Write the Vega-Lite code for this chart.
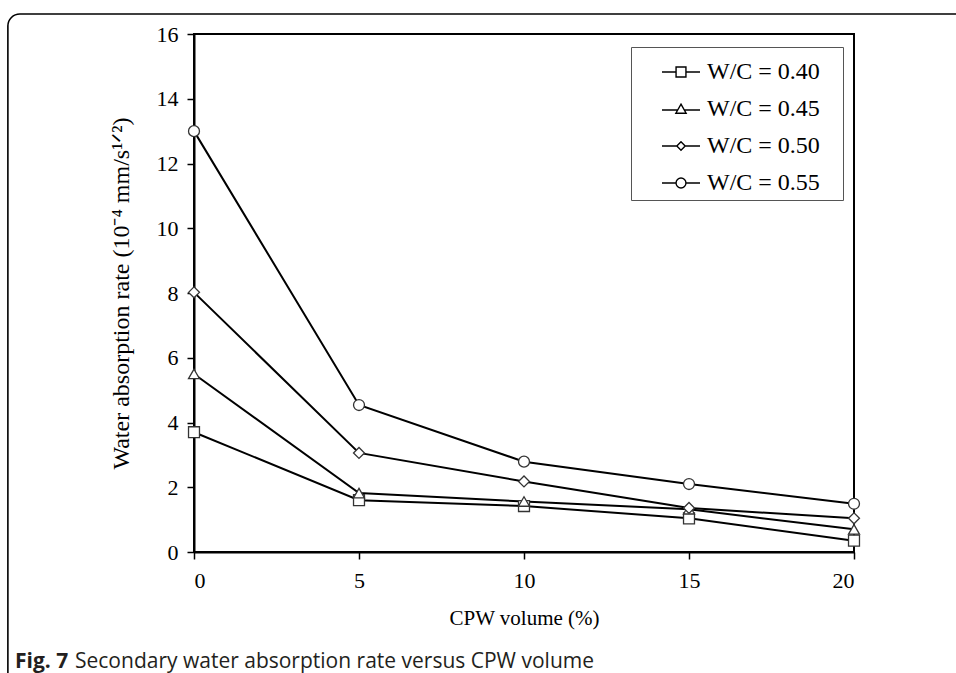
{
  "$schema": "https://vega.github.io/schema/vega-lite/v6.json",
  "width": 660,
  "height": 518,
  "autosize": "none",
  "padding": {"left": 194, "top": 34, "right": 102, "bottom": 121},
  "background": "white",
  "config": {
    "font": "Liberation Serif",
    "view": {"stroke": "black", "strokeWidth": 2},
    "axis": {
      "grid": false,
      "domainColor": "black",
      "domainWidth": 2,
      "tickColor": "black",
      "tickWidth": 1.5,
      "tickSize": 7,
      "labelFont": "Liberation Serif",
      "labelFontSize": 22,
      "labelColor": "black",
      "titleFont": "Liberation Serif",
      "titleFontSize": 21,
      "titleFontWeight": "normal",
      "titleColor": "black"
    }
  },
  "title": {
    "text": "Fig. 7",
    "subtitle": "\u200b\u00a0\u00a0\u00a0\u00a0\u00a0\u00a0\u00a0\u00a0\u00a0\u00a0\u00a0Secondary water absorption rate versus CPW volume",
    "orient": "top",
    "anchor": "start",
    "frame": "group",
    "dx": -179,
    "dy": 659,
    "offset": 0,
    "font": "Open Sans",
    "fontSize": 21,
    "fontWeight": "bold",
    "color": "#231f20",
    "subtitleFont": "Open Sans",
    "subtitleFontSize": 21,
    "subtitleFontWeight": "normal",
    "subtitleColor": "#231f20",
    "subtitlePadding": -21
  },
  "data": {
    "values": [
      {"series": "W/C = 0.40", "cpw": 0, "rate": 3.7},
      {"series": "W/C = 0.40", "cpw": 5, "rate": 1.6},
      {"series": "W/C = 0.40", "cpw": 10, "rate": 1.42},
      {"series": "W/C = 0.40", "cpw": 15, "rate": 1.04},
      {"series": "W/C = 0.40", "cpw": 20, "rate": 0.35},
      {"series": "W/C = 0.45", "cpw": 0, "rate": 5.5},
      {"series": "W/C = 0.45", "cpw": 5, "rate": 1.82},
      {"series": "W/C = 0.45", "cpw": 10, "rate": 1.56},
      {"series": "W/C = 0.45", "cpw": 15, "rate": 1.32},
      {"series": "W/C = 0.45", "cpw": 20, "rate": 0.7},
      {"series": "W/C = 0.50", "cpw": 0, "rate": 8.02},
      {"series": "W/C = 0.50", "cpw": 5, "rate": 3.06},
      {"series": "W/C = 0.50", "cpw": 10, "rate": 2.18},
      {"series": "W/C = 0.50", "cpw": 15, "rate": 1.36},
      {"series": "W/C = 0.50", "cpw": 20, "rate": 1.04},
      {"series": "W/C = 0.55", "cpw": 0, "rate": 13.0},
      {"series": "W/C = 0.55", "cpw": 5, "rate": 4.54},
      {"series": "W/C = 0.55", "cpw": 10, "rate": 2.79},
      {"series": "W/C = 0.55", "cpw": 15, "rate": 2.1},
      {"series": "W/C = 0.55", "cpw": 20, "rate": 1.49}
    ]
  },
  "encoding": {
    "x": {
      "field": "cpw",
      "type": "quantitative",
      "scale": {"domain": [0, 20], "nice": false, "zero": false},
      "axis": {"values": [0, 5, 10, 15, 20], "title": "CPW volume (%)", "labelPadding": 11, "titlePadding": 16}
    },
    "y": {
      "field": "rate",
      "type": "quantitative",
      "scale": {"domain": [0, 16], "nice": false},
      "axis": {"values": [0, 2, 4, 6, 8, 10, 12, 14, 16], "title": "Water absorption rate (10\u207b\u2074 mm/s\u00b9\u141f\u00b2)", "titleFontSize": 24, "labelPadding": 9, "titlePadding": 23}
    }
  },
  "resolve": {"scale": {"shape": "independent"}},
  "layer": [
    {
      "data": {"values": [{"x1": -5.64, "x2": 25, "y1": 16.62, "y2": -5}]},
      "mark": {"type": "rect", "fillOpacity": 0, "stroke": "black", "strokeWidth": 1.6, "cornerRadius": 12},
      "encoding": {
        "x": {"field": "x1", "type": "quantitative"},
        "x2": {"field": "x2"},
        "y": {"field": "y1", "type": "quantitative"},
        "y2": {"field": "y2"}
      }
    },
    {
      "mark": {"type": "line", "color": "black", "strokeWidth": 2},
      "encoding": {"detail": {"field": "series"}}
    },
    {
      "mark": {"type": "point", "filled": true, "fill": "white", "stroke": "#333", "strokeWidth": 1.3, "size": 120, "opacity": 1},
      "encoding": {
        "shape": {
          "field": "series",
          "type": "nominal",
          "scale": {"domain": ["W/C = 0.40", "W/C = 0.45", "W/C = 0.50", "W/C = 0.55"], "range": ["square", "triangle-up", "diamond", "circle"]},
          "legend": null
        }
      }
    },
    {
      "transform": [{"filter": "false"}],
      "mark": {"type": "point", "filled": false, "color": "black", "strokeWidth": 1.4, "size": 1444, "opacity": 1},
      "encoding": {
        "shape": {
          "field": "series",
          "type": "nominal",
          "scale": {
            "domain": ["W/C = 0.40", "W/C = 0.45", "W/C = 0.50", "W/C = 0.55"],
            "range": [
              "M-1,0H-0.26M0.26,0H1M-0.26,-0.26H0.26V0.26H-0.26Z",
              "M-1,0.05H-0.17M0.17,0.05H1M0,-0.26L0.27,0.22L-0.27,0.22Z",
              "M-1,0H-0.22M0.22,0H1M0,-0.22L0.22,0L0,0.22L-0.22,0Z",
              "M-1,0H-0.26M0.26,0H1M-0.26,0A0.26,0.26,0,1,0,0.26,0A0.26,0.26,0,1,0,-0.26,0Z"
            ]
          },
          "legend": {
            "title": null,
            "orient": "none",
            "legendX": 437,
            "legendY": 13,
            "padding": 5,
            "strokeColor": "#555",
            "symbolSize": 1444,
            "symbolOpacity": 1,
            "symbolStrokeColor": "black",
            "symbolStrokeWidth": 1.4,
            "symbolOffset": 25,
            "labelOffset": 6,
            "labelFont": "Liberation Serif",
            "labelFontSize": 24,
            "labelColor": "black",
            "labelLimit": 400,
            "rowPadding": 5,
            "labelExpr": "datum.label + '\u00a0\u00a0\u00a0\u200b'"
          }
        }
      }
    }
  ]
}
